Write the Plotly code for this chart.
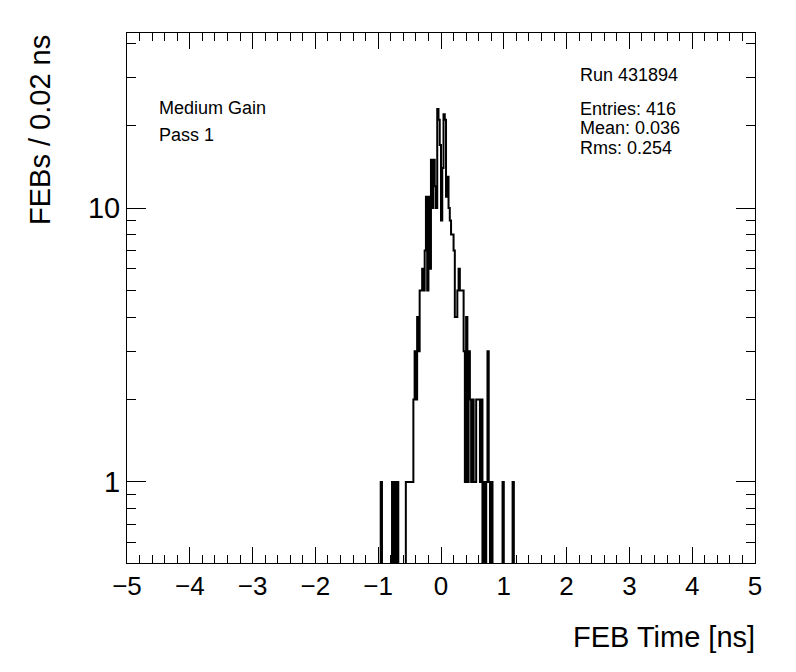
import numpy as np
import plotly.graph_objects as go

# ---- data ----
x_min, x_max, bin_width = -5.0, 5.0, 0.02
bin_left = [-0.96, -0.78, -0.74, -0.70,
            -0.56, -0.54, -0.52, -0.50, -0.48, -0.46, -0.44, -0.42, -0.40, -0.38,
            -0.36, -0.34, -0.32, -0.30, -0.28, -0.26, -0.24, -0.22, -0.20, -0.18,
            -0.16, -0.14, -0.12, -0.10, -0.08, -0.06, -0.04, -0.02,
            0.00, 0.02, 0.04, 0.06, 0.08, 0.10, 0.12, 0.14, 0.16, 0.18,
            0.20, 0.22, 0.24, 0.26, 0.28, 0.30, 0.32, 0.34, 0.36, 0.38,
            0.40, 0.42, 0.44, 0.46, 0.48, 0.50, 0.52, 0.54, 0.56, 0.58,
            0.60, 0.62, 0.64, 0.68, 0.72, 0.74, 0.76, 0.80, 0.98, 1.14]
counts = [1, 1, 1, 1,
          1, 1, 1, 1, 1, 1, 2, 3, 2, 4,
          3, 5, 5, 6, 5, 7, 11, 5, 11, 6,
          15, 10, 15, 12, 10, 23, 21, 17,
          9, 14, 22, 21, 11, 13, 10, 9, 8, 8,
          7, 4, 4, 5, 6, 5, 5, 5, 3, 1,
          4, 1, 3, 2, 1, 2, 1, 1, 2, 2,
          2, 1, 2, 1, 1, 3, 1, 1, 1, 1]

x_tick_vals = [-5, -4, -3, -2, -1, 0, 1, 2, 3, 4, 5]
y_tick_vals = [1, 10]
y_tick_text = ["1", "10"]
y_minor_vals = [0.6, 0.7, 0.8, 0.9, 2, 3, 4, 5, 6, 7, 8, 9, 20, 30, 40]

run_label = "Run 431894"
stats_lines = ["Entries: 416", "Mean: 0.036", "Rms: 0.254"]
info_lines = ["Medium Gain", "Pass 1"]

# ---- build full histogram ----
n_bins = int(round((x_max - x_min) / bin_width))
full = np.zeros(n_bins)
for l, c in zip(bin_left, counts):
    full[int(round((l - x_min) / bin_width))] = c
edges = x_min + bin_width * np.arange(n_bins + 1)
ys = np.append(full, full[-1]).astype(float)
ys[ys <= 0] = 1e-3  # zero bins drop below the frame (clipped)

FONT = "Liberation Sans, Arial, Helvetica, sans-serif"

fig = go.Figure()
fig.add_trace(go.Scatter(x=edges, y=ys, mode="lines", line_shape="hv",
                         line=dict(color="black", width=2), hoverinfo="skip",
                         showlegend=False))

# plot-area geometry in page pixels (page has an 8px body offset)
OFF = 8
L, R, T, B = 127, 755, 33, 563
PW, PH = 796, 672
W, H = PW - OFF, PH - OFF
def px(xp):
    return (xp - L) / (R - L)
def py(yp):
    return (B - yp) / (B - T)

ann = []
ann.append(dict(text=info_lines[0], x=px(158), y=py(107.5)))
ann.append(dict(text=info_lines[1], x=px(158), y=py(135)))
ann.append(dict(text=run_label, x=px(579), y=py(75)))
for i, s in enumerate(stats_lines):
    ann.append(dict(text=s, x=px(579), y=py(108.5 + 19.5 * i)))
for a in ann:
    a.update(xref="paper", yref="paper", xanchor="left", yanchor="middle",
             showarrow=False, borderpad=0,
             font=dict(family=FONT, size=18, color="black"))

ann.append(dict(text="FEB Time [ns]", x=px(757), y=py(637), xref="paper", yref="paper",
                xanchor="right", yanchor="middle", showarrow=False,
                font=dict(family=FONT, size=29, color="black")))
ann.append(dict(text="FEBs / 0.02 ns", x=px(40), y=py(33), xref="paper", yref="paper",
                xanchor="center", yanchor="top", textangle=-90, showarrow=False,
                font=dict(family=FONT, size=29, color="black")))

fig.update_layout(
    width=W, height=H,
    margin=dict(l=L - OFF, r=PW - R, t=T - OFF, b=PH - B, pad=0),
    paper_bgcolor="white", plot_bgcolor="white",
    font=dict(family=FONT, size=26, color="black"),
    annotations=ann,
    showlegend=False,
)
fig.update_xaxes(
    range=[x_min, x_max], tickmode="array", tickvals=x_tick_vals,
    ticks="inside", ticklen=16, tickwidth=1, tickcolor="black",
    minor=dict(ticks="inside", ticklen=8, tickwidth=1, tickcolor="black",
               dtick=0.2, tick0=0, showgrid=False),
    showline=True, linecolor="black", linewidth=1, mirror="allticks",
    showgrid=False, zeroline=False, tickfont=dict(family=FONT, size=26),
)
fig.update_yaxes(
    type="log", range=[-0.296, 1.639], tickmode="array",
    tickvals=y_tick_vals, ticktext=y_tick_text,
    ticks="inside", ticklen=19, tickwidth=1, tickcolor="black",
    minor=dict(ticks="inside", ticklen=9, tickwidth=1, tickcolor="black",
               tickmode="array", tickvals=y_minor_vals, showgrid=False),
    showline=True, linecolor="black", linewidth=1, mirror="allticks",
    showgrid=False, zeroline=False, tickfont=dict(family=FONT, size=29),
)

fig.write_html("out.html")
